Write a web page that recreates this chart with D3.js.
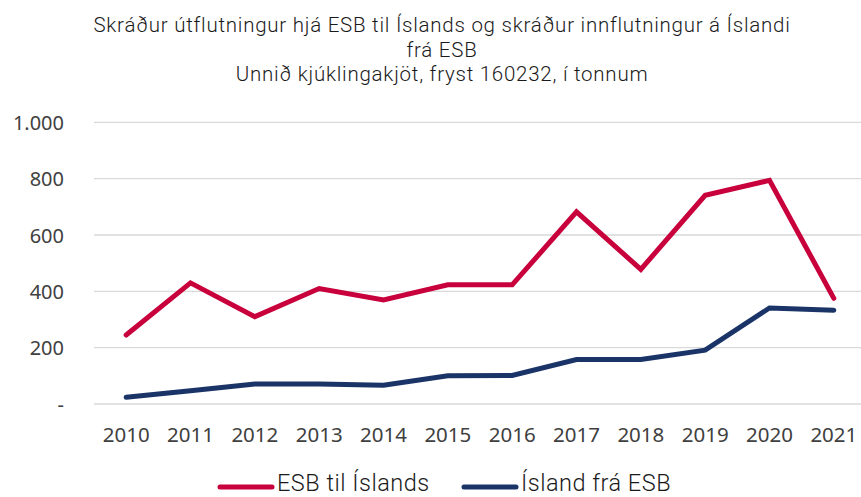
<!DOCTYPE html>
<html><head><meta charset="utf-8">
<script src="https://cdn.jsdelivr.net/npm/d3@7"></script>
<style>body{margin:0;background:#fff}svg{display:block}</style>
</head><body>
<script>
const years = ["2010","2011","2012","2013","2014","2015","2016","2017","2018","2019","2020","2021"];
const esbTilIslands = [245, 430, 310, 410, 369, 423, 423, 682, 478, 741, 794, 375];
const islandFraEsb = [24, 47, 71, 71, 67, 100, 101, 158, 158, 191, 341, 333];
const yTicks = [0, 200, 400, 600, 800, 1000];
const titleLines = ["Skráður útflutningur hjá ESB til Íslands og skráður innflutningur á Íslandi", "frá ESB", "Unnið kjúklingakjöt, fryst 160232, í tonnum"];
const seriesNames = ["ESB til Íslands", "Ísland frá ESB"];
const colors = ["#C8003C", "#1B3468"];

(function () {
const W = 861, H = 497;
const svg = d3.select("body").append("svg").attr("width", W).attr("height", H);
const mL = 94, mR = 866, mT = 122.3, mB = 404;
const x = d3.scaleBand().domain(years).range([mL, mR]);
const y = d3.scaleLinear().domain([0, 1000]).range([mB, mT]);
const fmt = v => v === 0 ? "-" : d3.format(",")(v).replace(/,/g, ".");
const axisFont = "'Noto Sans', sans-serif";
const textFont = "Roboto, sans-serif";

svg.append("g").selectAll("line").data(yTicks).join("line")
  .attr("x1", mL).attr("x2", mR)
  .attr("y1", d => y(d)).attr("y2", d => y(d))
  .attr("stroke", "#d9d9d9").attr("stroke-width", 1.3);

const yAxis = svg.append("g").attr("transform", `translate(${mL},0)`)
  .call(d3.axisLeft(y).tickValues(yTicks).tickFormat(fmt).tickSize(0).tickPadding(30));
yAxis.select(".domain").remove();
yAxis.attr("font-family", axisFont).attr("font-size", 20);
yAxis.selectAll("text").attr("fill", "#404040").attr("font-weight", 400).attr("dy", "0.36em");

const xAxis = svg.append("g").attr("transform", `translate(0,${mB})`)
  .call(d3.axisBottom(x).tickSize(0).tickPadding(0));
xAxis.select(".domain").remove();
xAxis.attr("font-family", axisFont).attr("font-size", 20.5);
xAxis.selectAll("text").attr("fill", "#404040").attr("font-weight", 400).attr("dy", null).attr("y", 38);

const line = d3.line().x((d, i) => x(years[i]) + x.bandwidth() / 2).y(d => y(d));
[esbTilIslands, islandFraEsb].forEach((s, k) => {
  svg.append("path").datum(s).attr("d", line).attr("fill", "none")
    .attr("stroke", colors[k]).attr("stroke-width", 5)
    .attr("stroke-linejoin", "miter").attr("stroke-linecap", "round");
});

svg.append("g").selectAll("text").data(titleLines).join("text")
  .attr("x", 442).attr("y", (d, i) => 32 + i * 24.5)
  .attr("text-anchor", "middle")
  .attr("font-family", textFont).attr("font-weight", 300)
  .attr("font-size", 20.5).attr("letter-spacing", 0.75)
  .attr("fill", "#1a1a1a").text(d => d);

const legX = [218, 462];
const lg = svg.append("g");
seriesNames.forEach((n, k) => {
  lg.append("line").attr("x1", legX[k] + 2).attr("x2", legX[k] + 54)
    .attr("y1", 487).attr("y2", 487).attr("stroke", colors[k])
    .attr("stroke-width", 5).attr("stroke-linecap", "round");
  lg.append("text").attr("x", legX[k] + 59).attr("y", 491)
    .attr("font-family", textFont).attr("font-weight", 300)
    .attr("font-size", 23.5).attr("letter-spacing", 0.5)
    .attr("fill", "#1a1a1a").text(n);
});
})();
</script>
</body></html>
